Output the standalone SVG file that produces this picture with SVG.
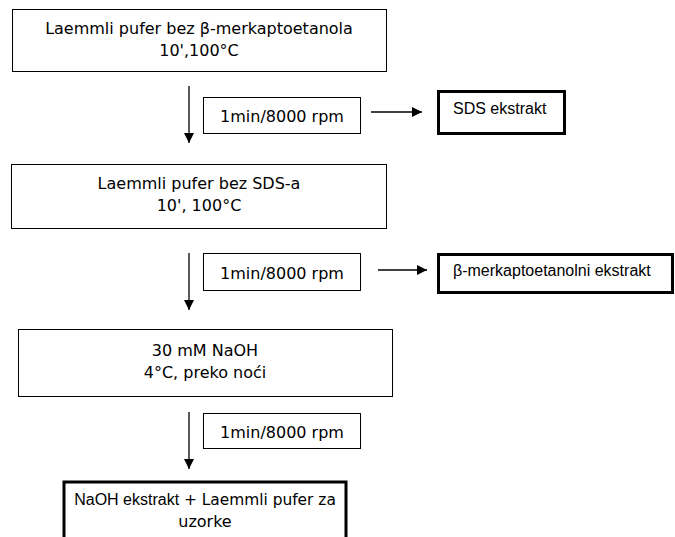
<svg xmlns="http://www.w3.org/2000/svg" width="675" height="537" viewBox="0 0 675 537">
<defs>
<marker id="ah" viewBox="0 0 10 10" refX="10" refY="5" markerWidth="10" markerHeight="10" markerUnits="userSpaceOnUse" orient="auto">
<path d="M0,0 L10,5 L0,10 z" fill="#000"/>
</marker>
<style>
.box{fill:#fff;stroke:#000;stroke-width:1}
.tbox{fill:#fff;stroke:#000;stroke-width:3}
.t{font-family:"DejaVu Sans",Verdana,sans-serif;font-size:16px;fill:#000;text-anchor:middle}
.s{font-family:"Liberation Sans",Arial,sans-serif;font-size:16px;fill:#000}
.ln{stroke:#000;stroke-width:1.3;fill:none}
</style>
</defs>
<rect width="675" height="537" fill="#fff"/>
<g id="step1">
<rect class="box" x="12.5" y="9.5" width="374" height="62"/>
<text class="t" x="199" y="34">Laemmli pufer bez β-merkaptoetanola</text>
<text class="t" x="199" y="56">10',100°C</text>
</g>
<g id="spin1">
<rect class="box" x="203.5" y="97.5" width="157" height="36"/>
<text class="t" x="282" y="122">1min/8000 rpm</text>
</g>
<g id="sds">
<rect class="tbox" x="438.5" y="91.5" width="126" height="42"/>
<text class="s" x="453" y="114">SDS ekstrakt</text>
</g>
<g id="step2">
<rect class="box" x="11.5" y="164.5" width="375" height="64"/>
<text class="t" x="199" y="189">Laemmli pufer bez SDS-a</text>
<text class="t" x="199" y="211">10', 100°C</text>
</g>
<g id="spin2">
<rect class="box" x="203.5" y="253.5" width="157" height="37"/>
<text class="t" x="282" y="279">1min/8000 rpm</text>
</g>
<g id="beta">
<rect class="tbox" x="438.5" y="254.5" width="234" height="38"/>
<text class="s" x="453" y="276">β-merkaptoetanolni ekstrakt</text>
</g>
<g id="step3">
<rect class="box" x="18.5" y="329.5" width="374" height="67"/>
<text class="t" x="205" y="356">30 mM NaOH</text>
<text class="t" x="205" y="378">4°C, preko noći</text>
</g>
<g id="spin3">
<rect class="box" x="203.5" y="413.5" width="157" height="35"/>
<text class="t" x="282" y="438">1min/8000 rpm</text>
</g>
<g id="final">
<rect class="tbox" x="64" y="482" width="282" height="70"/>
<text class="t" x="205" y="505" style="font-size:15.4px"><tspan class="s" style="font-size:16px">NaOH ekstrakt</tspan> + Laemmli pufer za</text>
<text class="t" x="205" y="527">uzorke</text>
</g>
<g id="connectors">
<line class="ln" x1="189" y1="86" x2="189" y2="143" marker-end="url(#ah)"/>
<line class="ln" x1="371" y1="112" x2="422" y2="112" marker-end="url(#ah)"/>
<line class="ln" x1="189" y1="253" x2="189" y2="310" marker-end="url(#ah)"/>
<line class="ln" x1="378" y1="270" x2="427" y2="270" marker-end="url(#ah)"/>
<line class="ln" x1="189" y1="412" x2="189" y2="469" marker-end="url(#ah)"/>
</g>
</svg>
